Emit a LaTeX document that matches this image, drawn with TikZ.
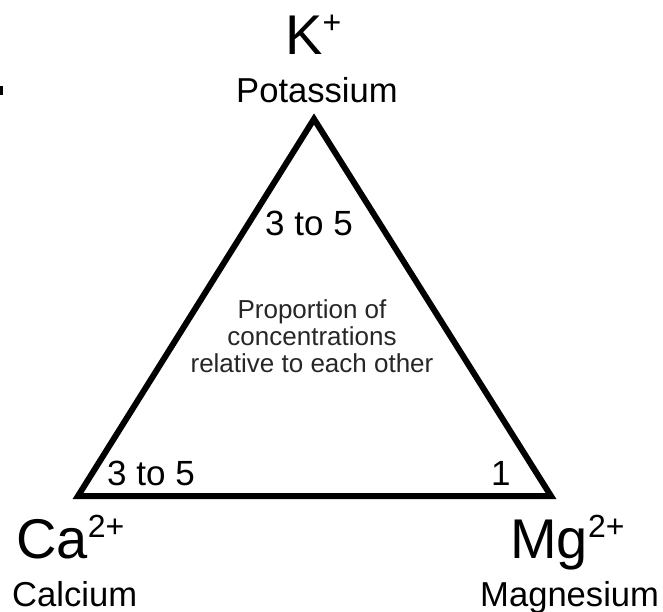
\documentclass[tikz,border=0pt]{standalone}
\usepackage{fontspec}
\setmainfont{Liberation Sans}
\newcommand{\supx}[1]{\raisebox{21pt}{\fontsize{32}{32}\selectfont #1}}
\begin{document}
\begin{tikzpicture}[x=1pt,y=-1pt,
  ion/.style={inner sep=0pt,anchor=base west,font=\fontsize{56}{56}\selectfont},
  elem/.style={inner sep=0pt,anchor=base west,font=\fontsize{34.6}{34.6}\selectfont},
  ratio/.style={inner sep=0pt,anchor=base west,font=\fontsize{35}{35}\selectfont},
  note/.style={inner sep=0pt,align=center,text=black!85,font=\fontsize{26}{27}\selectfont},
  edge/.style={line width=6pt,line join=miter}]
\useasboundingbox (0,0) rectangle (663,612);
% small mark
\fill (0,86) rectangle (3,95);
% triangle
\coordinate (top) at (314,119);
\coordinate (bl) at (78,496);
\coordinate (br) at (551,496);
\draw[edge] (top) -- (bl) -- (br) -- cycle;
% labels
\node[ion] (kion) at (285,55) {K\supx{+}};
\node[elem] (k) at (236,103) {Potassium};
\node[ion] (caion) at (16,558) {Ca\supx{2+}};
\node[elem] (ca) at (12,606) {Calcium};
\node[ion] (mgion) at (510,558) {Mg\supx{2+}};
\node[elem] (mg) at (480,606) {Magnesium};
\node[ratio] (rk) at (265,235) {3 to 5};
\node[ratio] (rca) at (107,485) {3 to 5};
\node[ratio] (rmg) at (491,485) {1};
\node[note,anchor=base] (n) at (312,372) {Proportion of\\concentrations\\relative to each other};
\end{tikzpicture}
\end{document}
